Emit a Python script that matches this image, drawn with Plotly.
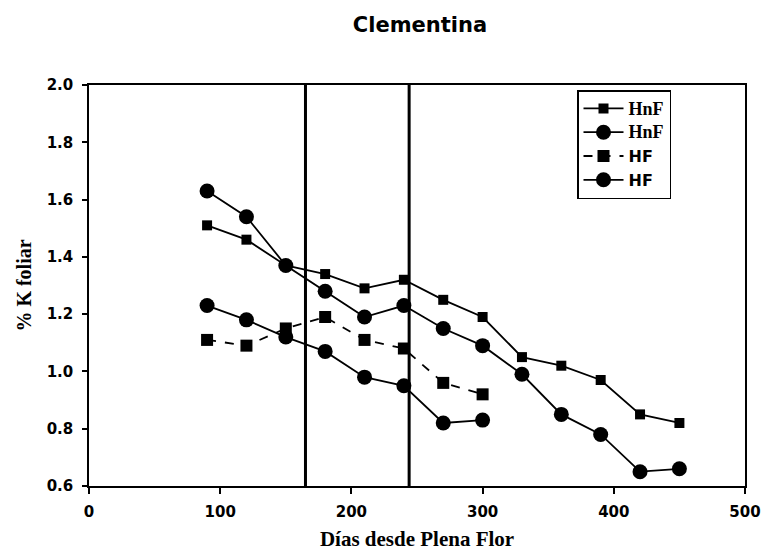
import plotly.graph_objects as go

# Days after full bloom and leaf K (%) for the four treatments
dias_largo = [90, 120, 150, 180, 210, 240, 270, 300, 330, 360, 390, 420, 450]
dias_corto = [90, 120, 150, 180, 210, 240, 270, 300]

hnf_cuadrado = [1.51, 1.46, 1.37, 1.34, 1.29, 1.32, 1.25, 1.19, 1.05, 1.02, 0.97, 0.85, 0.82]
hnf_circulo = [1.63, 1.54, 1.37, 1.28, 1.19, 1.23, 1.15, 1.09, 0.99, 0.85, 0.78, 0.65, 0.66]
hf_cuadrado = [1.11, 1.09, 1.15, 1.19, 1.11, 1.08, 0.96, 0.92]
hf_circulo = [1.23, 1.18, 1.12, 1.07, 0.98, 0.95, 0.82, 0.83]

# Phase boundaries (days)
limites = [165, 244]

x_ticks = [0, 100, 200, 300, 400, 500]
y_ticks = [0.6, 0.8, 1.0, 1.2, 1.4, 1.6, 1.8, 2.0]

SERIF = "Liberation Serif, Times New Roman, serif"
SANS = "DejaVu Sans, Arial, sans-serif"

fig = go.Figure()

hnf_label = f'<span style="font-family:{SERIF}; font-weight:bold; font-size:18px">HnF</span>'
series = [
    (dias_largo, hnf_cuadrado, "square", 10, "solid", hnf_label),
    (dias_largo, hnf_circulo, "circle", 15, "solid", hnf_label),
    (dias_corto, hf_cuadrado, "square", 12, "dash", "<b>HF</b>"),
    (dias_corto, hf_circulo, "circle", 15, "solid", "<b>HF</b>"),
]
for xs, ys, sym, size, dash, name in series:
    fig.add_trace(go.Scatter(
        x=xs, y=ys, mode="lines+markers", name=name,
        line=dict(color="black", width=1.8, dash=dash),
        marker=dict(symbol=sym, size=size, color="black"),
    ))

for d in limites:
    fig.add_shape(type="line", xref="x", yref="paper", x0=d, x1=d, y0=0, y1=1,
                  line=dict(color="black", width=3))

fig.update_layout(
    width=764, height=551,
    margin=dict(l=89, r=19, t=85, b=65, autoexpand=False),
    paper_bgcolor="white", plot_bgcolor="white",
    title=dict(text="<b>Clementina</b>", x=420 / 764, xanchor="center", y=1 - 25 / 551, yanchor="middle",
               font=dict(family=SANS, size=21, color="black")),
    showlegend=True,
    legend=dict(
        x=(577 - 89) / 656, y=1 - 5 / 401, xanchor="left", yanchor="top",
        bordercolor="black", borderwidth=1.5, bgcolor="white",
        font=dict(family=SANS, size=16, color="black"),
        itemwidth=40, tracegroupgap=0,
    ),
    font=dict(family=SANS, color="black"),
)

fig.update_xaxes(
    range=[0, 500], tickvals=x_ticks, ticktext=[str(v) for v in x_ticks],
    ticks="outside", ticklen=6, tickwidth=1.5, tickcolor="black",
    showline=True, linecolor="black", linewidth=1.5, mirror=True,
    showgrid=False, zeroline=False, automargin=False,
    ticklabelstandoff=5,
    tickfont=dict(family=SANS, size=15, color="black", weight="bold"),
    title=dict(text="<b>Días desde Plena Flor</b>", standoff=14,
               font=dict(family=SERIF, size=21, color="black")),
)
fig.update_yaxes(
    range=[0.6, 2.0], tickvals=y_ticks, ticktext=[f"{v:.1f}" for v in y_ticks],
    ticks="outside", ticklen=5, tickwidth=1.5, tickcolor="black",
    showline=True, linecolor="black", linewidth=1.5, mirror=True,
    showgrid=False, zeroline=False, automargin=False,
    ticklabelstandoff=6,
    tickfont=dict(family=SANS, size=15, color="black", weight="bold"),
    title=dict(text="<b>% K foliar</b>", standoff=10,
               font=dict(family=SERIF, size=20, color="black")),
)

fig.write_html("out.html")
